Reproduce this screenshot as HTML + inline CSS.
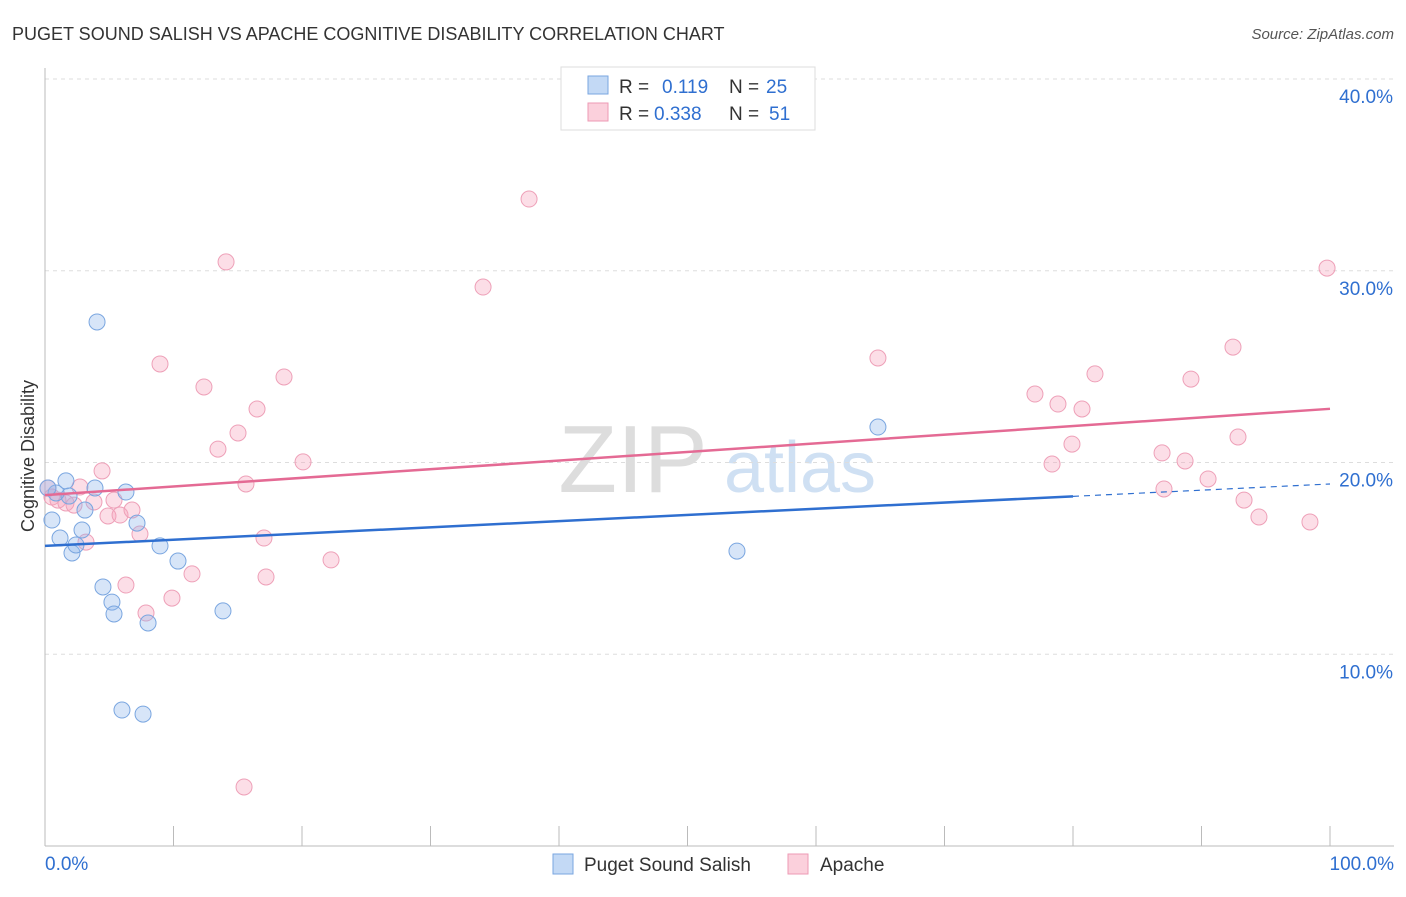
<!DOCTYPE html>
<html><head><meta charset="utf-8"><style>
body{margin:0;background:#fff;font-family:"Liberation Sans",sans-serif}
svg text{font-family:"Liberation Sans",sans-serif}
</style></head><body>
<svg id="chart" width="1406" height="892" viewBox="0 0 1406 892">
<text x="12" y="40" font-size="18" fill="#333">PUGET SOUND SALISH VS APACHE COGNITIVE DISABILITY CORRELATION CHART</text>
<text x="1394" y="39" font-size="15" fill="#555" font-style="italic" text-anchor="end">Source: ZipAtlas.com</text>
<text x="633" y="492" font-size="96" fill="#ddd" font-family="Liberation Serif" text-anchor="middle">ZIP</text>
<text x="800" y="492" font-size="72" fill="#cfe0f3" text-anchor="middle">atlas</text>
<g id="grid"></g>
<g id="axes"></g>
<g id="marks"></g>
<text transform="translate(34,456) rotate(-90)" font-size="18" fill="#333" text-anchor="middle">Cognitive Disability</text>
<g>
<rect x="561" y="67" width="254" height="63" fill="#fff" stroke="#ddd"/>
<rect x="588" y="76" width="20" height="18" fill="#c3d9f5" stroke="#7aa6e0"/>
<rect x="588" y="103" width="20" height="18" fill="#fbd0dc" stroke="#ee9ab4"/>
<text x="619" y="93" font-size="19" fill="#333">R =</text><text x="662" y="93" font-size="19" fill="#2f6fd0">0.119</text>
<text x="729" y="93" font-size="19" fill="#333">N =</text><text x="766" y="93" font-size="19" fill="#2f6fd0">25</text>
<text x="619" y="120" font-size="19" fill="#333">R =</text><text x="654" y="120" font-size="19" fill="#2f6fd0">0.338</text>
<text x="729" y="120" font-size="19" fill="#333">N =</text><text x="769" y="120" font-size="19" fill="#2f6fd0">51</text>
</g>
<g>
<rect x="553" y="854" width="20" height="20" fill="#c3d9f5" stroke="#7aa6e0"/>
<text x="584" y="871" font-size="19" fill="#333">Puget Sound Salish</text>
<rect x="788" y="854" width="20" height="20" fill="#fbd0dc" stroke="#ee9ab4"/>
<text x="820" y="871" font-size="19" fill="#333">Apache</text>
</g>
</svg>
<script>
const yTicks=[10,20,30,40];
const yTickLabels=["10.0%","20.0%","30.0%","40.0%"];
const xTickLabels=["0.0%","100.0%"];
const blueX=[4.05,0.54,1.17,1.63,2.1,1.87,2.41,2.88,3.11,3.89,4.51,5.21,5.37,6.3,7.16,8.02,8.95,10.35,13.85,5.99,7.63,53.85,64.82,0.86,0.23];
const blueY=[27.33,17.0,16.06,19.04,15.28,18.25,15.7,16.48,17.52,18.67,13.51,12.72,12.1,18.46,16.84,11.63,15.65,14.86,12.26,7.09,6.88,15.38,21.85,18.41,18.67];
const pinkX=[0.23,0.54,1.01,1.63,2.26,2.72,3.19,3.81,4.44,4.9,5.37,5.84,6.3,6.77,7.39,7.86,8.95,9.88,11.44,12.37,13.46,14.09,15.02,15.64,16.5,17.04,17.2,18.6,20.08,22.26,15.49,34.09,37.67,64.82,77.04,78.37,78.83,79.92,80.7,81.71,86.93,87.08,88.72,89.18,90.51,92.45,92.84,93.31,94.47,98.44,99.77];
const pinkY=[18.67,18.2,18.04,17.89,17.78,18.72,15.85,17.94,19.56,17.21,18.04,17.26,13.61,17.52,16.27,12.15,25.14,12.93,14.19,23.94,20.7,30.46,21.54,18.88,22.79,16.06,14.03,24.46,20.03,14.92,3.08,29.15,33.74,25.45,23.57,19.92,23.05,20.96,22.79,24.62,20.5,18.62,20.08,24.35,19.14,26.02,21.33,18.04,17.16,16.9,30.14];
const blueTrend=[15.65,18.88];
const pinkTrend=[18.3,22.8];
const NS="http://www.w3.org/2000/svg";
const sx=v=>45+v*12.85, sy=v=>846-v*19.175;
function mk(t,a,p){const e=document.createElementNS(NS,t);for(const k in a)e.setAttribute(k,a[k]);p.appendChild(e);return e;}
const grid=document.getElementById('grid'),axes=document.getElementById('axes'),marks=document.getElementById('marks');
yTicks.forEach((v,i)=>{
 const l=mk('line',{x1:45,x2:1394,y1:sy(v),y2:sy(v),stroke:'#ddd','stroke-dasharray':'4,4'},grid);
 
 
 const t=mk('text',{x:1393,y:sy(v)+24,'font-size':19,fill:'#2f6fd0','text-anchor':'end'},axes);
 t.textContent=yTickLabels[i];
 
 
});
const yl=mk('line',{x1:45,x2:45,y1:68,y2:846,stroke:'#bbb'},axes);


const xl=mk('line',{x1:45,x2:1394,y1:846,y2:846,stroke:'#bbb'},axes);


for(let i=0;i<=10;i++){
 const tk=mk('line',{x1:sx(i*10),x2:sx(i*10),y1:826,y2:846,stroke:'#bbb'},axes);
 
 
}
[[0,'start',xTickLabels[0]],[100,'end',xTickLabels[1]]].forEach(([v,a,s])=>{
 const t=mk('text',{x:v==0?sx(v):1394,y:870,'font-size':19,fill:'#2f6fd0','text-anchor':a},axes);
 t.textContent=s;
 
 
});
function pts(X,Y,fill,stroke,name){X.forEach((x,i)=>{
 const c=mk('circle',{cx:sx(x),cy:sy(Y[i]),r:8,fill:fill,stroke:stroke,'stroke-width':1},marks);
 
 
});}
pts(pinkX,pinkY,'rgba(245,160,185,0.35)','#eea0b8','apache-point');
pts(blueX,blueY,'rgba(140,180,235,0.35)','#7aa6e0','puget-point');
const bt=v=>blueTrend[0]+(blueTrend[1]-blueTrend[0])*v/100;
let l1=mk('line',{x1:sx(0),y1:sy(bt(0)),x2:sx(80),y2:sy(bt(80)),stroke:'#2f6fd0','stroke-width':2.5},marks);


let l2=mk('line',{x1:sx(80),y1:sy(bt(80)),x2:sx(100),y2:sy(bt(100)),stroke:'#2f6fd0','stroke-width':1.2,'stroke-dasharray':'6,5'},marks);


let l3=mk('line',{x1:sx(0),y1:sy(pinkTrend[0]),x2:sx(100),y2:sy(pinkTrend[1]),stroke:'#e46a94','stroke-width':2.5},marks);


</script>
</body></html>
